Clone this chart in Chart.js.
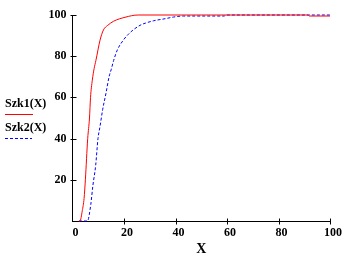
<!DOCTYPE html>
<html>
<head>
<meta charset="utf-8">
<script src="https://cdn.jsdelivr.net/npm/chart.js@4/dist/chart.umd.min.js"></script>
<style>
  html, body { margin: 0; padding: 0; background: #fff; }
  #wrap { position: relative; width: 351px; height: 260px; }
  #c { position: absolute; left: 0; top: 0; }
  .lg { position: absolute; left: 5px; font: bold 12px "Liberation Serif", "Times New Roman", serif; color: #000; line-height: 14px; white-space: nowrap; }
  .ln { position: absolute; left: 5px; height: 1px; }
</style>
</head>
<body>
<div id="wrap">
  <canvas id="c" width="351" height="260"></canvas>
  <div class="lg" id="t1" style="top:96px;"></div>
  <div class="ln" id="l1" style="top:114px;width:28px;"></div>
  <div class="lg" id="t2" style="top:120px;"></div>
  <div class="ln" id="l2" style="top:138px;width:27px;"></div>
</div>
<script>
// ---- data ----
const seriesNames = ["Szk1(X)", "Szk2(X)"];
const xTitle = "X";
const xTickValues = [0, 20, 40, 60, 80, 100];
const yTickValues = [0, 20, 40, 60, 80, 100];

const s1x = [2.5, 2.9, 3.8, 4.5, 5.0, 5.9, 6.6, 7.0, 7.7, 8.4, 9.1, 10.7, 12.0, 13.7, 16.0, 20.4, 25.5, 91.5, 92, 100];
const s1y = [0,   0,   5,   11,  20,  40,  50,  60,  68.4, 74, 78,  87.8, 92.7, 95,   97,   98.9, 100,  100,  99.5, 99.5];

const s2x = [2.5, 5.8, 7.1, 7.9, 9.0, 9.9, 10.7, 11.7, 13.0, 14.2, 15.0, 16.0, 17.4, 19.8, 21.5, 23.7, 26.7, 28.2, 31.5, 36.0, 39.2, 43.0, 59.0, 59.5, 100];
const s2y = [0,   0,   8,   17,  27,  40,  46,   54,   62,   70,   73.4, 78,   83,   87.9, 90.4, 92.9, 95.3, 96,   97.2, 98.2, 99,   99.5, 99.5, 100,  100];

const colors = ["#ff0000", "#0000ff"];

// ---- legend (HTML text) ----
document.getElementById('t1').textContent = seriesNames[0];
document.getElementById('t2').textContent = seriesNames[1];
document.getElementById('l1').style.background = colors[0];
document.getElementById('l2').style.background =
  `repeating-linear-gradient(to right, ${colors[1]} 0 3px, transparent 3px 5px)`;

const toPts = (xs, ys) => xs.map((x, i) => ({ x, y: ys[i] }));

const FONT = { family: '"Liberation Serif", "Times New Roman", serif', size: 12, weight: 'bold' };

const crossTicks = {
  id: 'crossTicks',
  afterDraw(chart) {
    const ctx = chart.ctx;
    const xs = chart.scales.x, ys = chart.scales.y;
    const ca = chart.chartArea;
    ctx.save();
    ctx.strokeStyle = '#000';
    ctx.lineWidth = 1;
    ctx.beginPath();
    xTickValues.forEach(v => {
      if (v === 0) return;
      const px = Math.round(xs.getPixelForValue(v)) + 0.5;
      const py = Math.round(ca.bottom) + 0.5;
      ctx.moveTo(px, py - 3); ctx.lineTo(px, py + 3);
    });
    yTickValues.forEach(v => {
      if (v === 0) return;
      const py = Math.round(ys.getPixelForValue(v)) + 0.5;
      const px = Math.round(ca.left) + 0.5;
      ctx.moveTo(px - 3, py); ctx.lineTo(px + 3, py);
    });
    ctx.stroke();
    ctx.restore();
  }
};

new Chart(document.getElementById('c'), {
  type: 'line',
  data: {
    datasets: [
      { label: seriesNames[0], data: toPts(s1x, s1y), borderColor: colors[0], borderWidth: 1, pointRadius: 0, cubicInterpolationMode: 'monotone', fill: false, clip: false },
      { label: seriesNames[1], data: toPts(s2x, s2y), borderColor: colors[1], borderWidth: 1, borderDash: [3, 2], pointRadius: 0, cubicInterpolationMode: 'monotone', fill: false, clip: false }
    ]
  },
  options: {
    responsive: false,
    animation: false,
    devicePixelRatio: 1,
    layout: { autoPadding: false, padding: { left: 0, right: 21, top: 15, bottom: 0 } },
    plugins: { legend: { display: false }, tooltip: { enabled: false } },
    scales: {
      x: {
        type: 'linear', min: 0, max: 100,
        afterFit(s) { s.height = 39; },
        afterBuildTicks(s) { s.ticks = xTickValues.map(v => ({ value: v })); },
        grid: { display: false, drawTicks: false },
        border: { display: true, color: '#000', width: 1 },
        ticks: { color: '#000', font: FONT, padding: 5, labelOffset: 3, maxRotation: 0, autoSkip: false },
        title: { display: true, text: xTitle, color: '#000', font: { family: FONT.family, size: 14, weight: 'bold' }, padding: { top: 0, bottom: 2 } }
      },
      y: {
        type: 'linear', min: 0, max: 100,
        afterFit(s) { s.width = 72.5; },
        afterBuildTicks(s) { s.ticks = yTickValues.map(v => ({ value: v })); },
        grid: { display: false, drawTicks: false },
        border: { display: true, color: '#000', width: 1 },
        ticks: { color: '#000', font: FONT, padding: 6, autoSkip: false, callback: v => (v === 0 ? '' : String(v)) }
      }
    }
  },
  plugins: [crossTicks]
});
</script>
</body>
</html>
